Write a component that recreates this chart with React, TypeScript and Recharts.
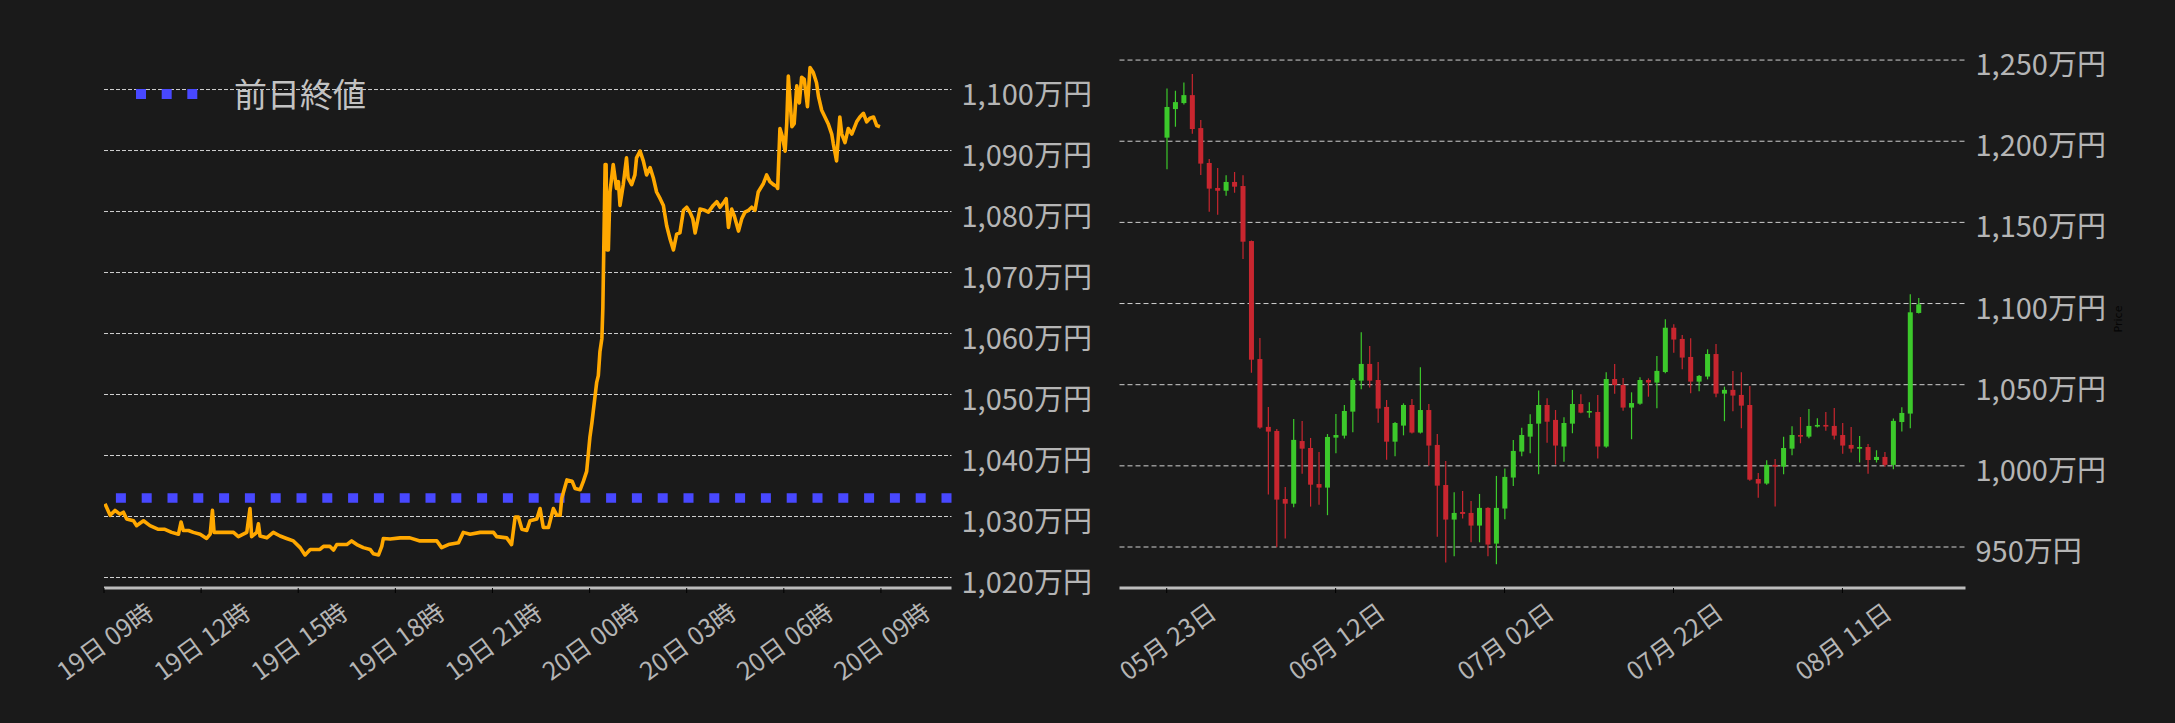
import React from "react";
import {
  LineChart,
  Line,
  ComposedChart,
  Bar,
  XAxis,
  YAxis,
  CartesianGrid,
  ReferenceLine,
  Legend,
} from "recharts";

// intraday price (hours since 19日 09時, 万円)
const intradayHours = [
  0.03, 0.19, 0.34, 0.49, 0.6, 0.7, 0.91, 1.01, 1.11, 1.22, 1.42, 1.68, 1.88, 2.09, 2.3, 2.38, 2.45, 2.61, 2.76,
  2.97, 3.17, 3.28, 3.35, 3.4, 3.69, 4.0, 4.15, 4.41, 4.51, 4.56, 4.72, 4.77, 4.82, 5.03, 5.23, 5.44, 5.64, 5.85,
  6.06, 6.21, 6.37, 6.67, 6.78, 6.98, 7.09, 7.19, 7.5, 7.65, 7.81, 8.01, 8.22, 8.32, 8.48, 8.58, 8.63, 8.84, 9.15,
  9.45, 9.76, 10.07, 10.28, 10.43, 10.64, 10.95, 11.1, 11.31, 11.62, 12.03, 12.13, 12.44, 12.59, 12.7, 12.8, 12.91,
  13.06, 13.16, 13.37, 13.47, 13.57, 13.73, 13.88, 13.99, 14.09, 14.14, 14.3, 14.46, 14.55, 14.71, 14.81, 14.91,
  15.01, 15.07, 15.22, 15.27, 15.32, 15.38, 15.41, 15.48, 15.51, 15.54, 15.58, 15.63, 15.73, 15.83, 15.89, 15.94,
  16.04, 16.14, 16.19, 16.3, 16.4, 16.45, 16.56, 16.66, 16.76, 16.87, 16.97, 17.07, 17.18, 17.28, 17.38, 17.49,
  17.59, 17.69, 17.79, 17.9, 18.0, 18.1, 18.19, 18.26, 18.41, 18.56, 18.67, 18.82, 18.93, 19.03, 19.16, 19.22,
  19.29, 19.39, 19.47, 19.6, 19.7, 19.8, 19.91, 20.01, 20.11, 20.21, 20.37, 20.47, 20.57, 20.68, 20.78, 20.81,
  20.88, 20.96, 21.04, 21.09, 21.14, 21.25, 21.32, 21.4, 21.48, 21.55, 21.63, 21.73, 21.81, 21.91, 22.01, 22.07,
  22.17, 22.27, 22.37, 22.48, 22.53, 22.63, 22.73, 22.79, 22.89, 22.99, 23.1, 23.25, 23.35, 23.46, 23.56, 23.66,
  23.77, 23.87, 23.97,
];
const intradayPrice = [
  1032.1, 1030.2, 1031.0, 1030.4, 1030.7, 1029.6, 1029.3, 1028.5, 1028.9, 1029.3, 1028.5, 1027.9, 1027.9, 1027.4,
  1027.1, 1029.1, 1027.7, 1027.7, 1027.4, 1027.1, 1026.4, 1027.1, 1031.0, 1027.4, 1027.4, 1027.4, 1026.7, 1027.4,
  1031.3, 1026.7, 1027.4, 1028.8, 1026.8, 1026.5, 1027.4, 1026.8, 1026.4, 1026.0, 1024.9, 1023.7, 1024.6, 1024.6,
  1025.1, 1025.1, 1024.5, 1025.4, 1025.4, 1026.0, 1025.4, 1024.9, 1024.6, 1023.9, 1023.7, 1025.1, 1026.4, 1026.3,
  1026.5, 1026.5, 1026.0, 1026.0, 1026.0, 1024.9, 1025.4, 1025.7, 1027.4, 1027.1, 1027.4, 1027.4, 1026.7, 1026.5,
  1025.4, 1029.9, 1029.9, 1027.9, 1027.7, 1029.3, 1029.6, 1031.3, 1028.2, 1028.2, 1031.3, 1030.2, 1030.2, 1033.0,
  1036.0, 1035.8, 1034.6, 1034.4, 1035.8, 1037.4, 1043.0, 1045.3, 1052.0, 1053.1, 1057.0, 1059.2, 1064.2, 1087.7,
  1087.7, 1073.7, 1073.7, 1083.2, 1087.7, 1083.8, 1084.9, 1081.0, 1084.4, 1088.8, 1085.5, 1084.4, 1086.0, 1088.8,
  1089.9, 1088.3, 1086.0, 1087.2, 1085.5, 1083.2, 1082.1, 1081.0, 1077.7, 1075.4, 1073.7, 1076.3, 1076.5, 1080.2,
  1080.7, 1079.9, 1078.8, 1076.5, 1080.4, 1080.2, 1079.9, 1081.0, 1081.6, 1080.7, 1081.6, 1082.1, 1077.4, 1080.4,
  1079.3, 1076.8, 1078.8, 1079.9, 1080.2, 1080.7, 1080.2, 1083.2, 1084.6, 1086.0, 1084.9, 1084.4, 1084.1, 1083.8,
  1093.6, 1092.2, 1089.9, 1094.4, 1102.2, 1093.9, 1094.4, 1100.6, 1097.8, 1102.0, 1101.7, 1097.2, 1103.6, 1102.8,
  1101.1, 1098.9, 1096.6, 1095.5, 1094.4, 1092.7, 1091.1, 1088.3, 1095.5, 1092.7, 1091.3, 1093.6, 1092.7, 1094.7,
  1095.5, 1096.1, 1094.7, 1095.3, 1095.5, 1094.1, 1093.9, 1095.3,
];
const prevClose = 1033.05;
const intradayTicks = [0, 3, 6, 9, 12, 15, 18, 21, 24];
const intradayTickLabels = [
  "19日 09時", "19日 12時", "19日 15時", "19日 18時", "19日 21時",
  "20日 00時", "20日 03時", "20日 06時", "20日 09時",
];
const intradayPriceTicks = [1020, 1030, 1040, 1050, 1060, 1070, 1080, 1090, 1100];
const intradayPriceLabels = [
  "1,020万円", "1,030万円", "1,040万円", "1,050万円", "1,060万円",
  "1,070万円", "1,080万円", "1,090万円", "1,100万円",
];

// daily candles, one per day starting 05月23日 (万円)
const candleOpen = [
  1202.2, 1219.8, 1223.5, 1228.4, 1208.1, 1186.6, 1171.2, 1169.5, 1174.9, 1172.4, 1138.5, 1065.8, 1024.0, 1021.5,
  979.6, 976.7, 1015.3, 1011.0, 988.8, 986.6, 1017.4, 1018.6, 1033.4, 1052.5, 1062.8, 1052.9, 1036.3, 1014.9,
  1024.8, 1037.5, 1020.5, 1034.4, 1012.9, 988.2, 966.9, 971.6, 971.0, 963.2, 974.1, 952.1, 973.7, 992.8, 1008.8,
  1018.0, 1026.0, 1037.5, 1028.3, 1011.9, 1026.0, 1038.1, 1032.8, 1033.2, 1011.9, 1053.5, 1049.8, 1035.9, 1038.3,
  1052.9, 1051.3, 1057.8, 1085.1, 1078.2, 1067.1, 1051.9, 1055.0, 1068.9, 1044.5, 1046.8, 1043.7, 1037.5, 991.9,
  989.1, 1000.6, 999.5, 1010.6, 1019.0, 1018.0, 1024.2, 1025.2, 1024.6, 1019.0, 1012.9, 1010.6, 1011.6, 1003.6,
  1005.5, 1000.6, 1027.0, 1032.2, 1094.2,
];
const candleHigh = [
  1232.5, 1231.1, 1236.2, 1241.4, 1213.0, 1189.0, 1183.5, 1179.0, 1181.0, 1179.0, 1138.9, 1078.8, 1036.3, 1022.7,
  987.0, 1028.9, 1027.7, 1017.2, 1008.6, 1019.6, 1031.9, 1037.5, 1053.9, 1082.3, 1073.9, 1064.0, 1040.6, 1027.0,
  1038.5, 1041.2, 1060.7, 1038.1, 1019.6, 1003.0, 983.7, 984.5, 978.4, 982.7, 974.5, 993.8, 998.3, 1015.9, 1023.4,
  1031.8, 1046.5, 1041.6, 1034.4, 1029.9, 1046.8, 1044.1, 1039.2, 1043.7, 1057.6, 1062.8, 1054.1, 1045.3, 1054.6,
  1053.9, 1067.7, 1090.3, 1087.2, 1080.6, 1078.6, 1056.0, 1071.8, 1075.1, 1048.8, 1058.5, 1057.6, 1049.2, 995.6,
  1003.4, 1004.3, 1018.0, 1024.4, 1030.1, 1035.0, 1029.3, 1033.2, 1035.7, 1026.4, 1023.9, 1018.4, 1013.5, 1009.6,
  1008.6, 1029.1, 1036.1, 1105.7, 1103.4,
];
const candleLow = [
  1182.7, 1208.9, 1222.7, 1204.6, 1179.2, 1156.6, 1154.7, 1166.4, 1168.3, 1127.4, 1057.4, 1022.9, 982.3, 949.8,
  955.2, 974.5, 995.2, 974.9, 976.1, 969.6, 1007.7, 1016.8, 1020.7, 1047.2, 1048.2, 1026.6, 1003.8, 1005.9, 1018.8,
  1020.0, 1020.0, 1000.0, 956.4, 940.4, 944.3, 967.5, 952.9, 952.9, 944.3, 939.4, 967.1, 987.6, 1005.9, 1007.7,
  994.8, 1014.3, 1000.8, 1002.6, 1020.1, 1032.4, 1029.7, 1004.5, 1011.2, 1044.5, 1034.0, 1016.4, 1037.7, 1042.6,
  1035.5, 1057.0, 1069.7, 1059.5, 1044.7, 1045.9, 1053.3, 1042.2, 1027.5, 1033.6, 1023.1, 990.9, 980.4, 988.4,
  974.9, 994.8, 1006.5, 1013.9, 1017.0, 1023.6, 1021.7, 1016.2, 1007.5, 1008.2, 1002.0, 995.2, 1002.0, 999.5,
  997.9, 1021.1, 1023.1, 1093.8,
];
const candleClose = [
  1221.1, 1224.1, 1228.4, 1207.5, 1186.2, 1170.8, 1169.5, 1174.9, 1172.0, 1138.1, 1065.4, 1023.6, 1021.1, 979.2,
  976.7, 1016.0, 1010.6, 988.4, 986.6, 1017.8, 1019.0, 1033.8, 1052.9, 1062.8, 1052.5, 1035.3, 1014.9, 1026.4,
  1037.5, 1020.5, 1034.4, 1012.5, 987.8, 966.9, 971.0, 970.4, 963.2, 974.1, 951.5, 974.1, 993.2, 1009.2, 1019.0,
  1025.8, 1037.5, 1027.2, 1012.5, 1026.4, 1038.1, 1032.8, 1033.8, 1011.9, 1053.5, 1049.8, 1035.9, 1038.7, 1052.9,
  1051.3, 1058.5, 1085.1, 1077.8, 1066.7, 1051.9, 1055.4, 1068.9, 1044.5, 1046.8, 1043.3, 1037.1, 991.5, 989.1,
  1000.6, 999.5, 1011.0, 1019.0, 1018.0, 1024.6, 1025.2, 1024.2, 1018.6, 1012.5, 1010.6, 1011.6, 1003.6, 1005.5,
  1000.6, 1027.7, 1032.6, 1094.6, 1099.5,
];
const dateTicks = [0, 20, 40, 60, 80];
const dateTickLabels = ["05月 23日", "06月 12日", "07月 02日", "07月 22日", "08月 11日"];
const dailyPriceTicks = [950, 1000, 1050, 1100, 1150, 1200, 1250];
const dailyPriceLabels = ["950万円", "1,000万円", "1,050万円", "1,100万円", "1,150万円", "1,200万円", "1,250万円"];

const BG = "#1a1a1a";
const TEXT = "#b5b5b5";
const GRID = "#d0d0d0";
const AXIS = "#bdbdbd";
const UP = "#3cc92b";
const DOWN = "#c8262f";
const FONT = "'Noto Sans CJK JP', 'Noto Sans', sans-serif";

const intradayData = intradayHours.map((h, i) => ({ hour: h, price: intradayPrice[i] }));
const candleData = candleOpen.map((o, i) => ({
  day: i,
  open: o,
  high: candleHigh[i],
  low: candleLow[i],
  close: candleClose[i],
}));

// rotated date labels, centred under the tick
const makeXTick = (ticks: number[], labels: string[]) => (props: any) => {
  const { x, y, payload } = props;
  const label = labels[ticks.indexOf(payload.value)];
  return (
    <g transform={`translate(${x}, ${y + 45}) rotate(-36)`}>
      <text
        x={0}
        y={0}
        textAnchor="middle"
        dominantBaseline="central"
        fill={TEXT}
        fontSize={25}
        fontFamily={FONT}
      >
        {label}
      </text>
    </g>
  );
};

const makeYTick = (ticks: number[], labels: string[]) => (props: any) => {
  const { x, y, payload } = props;
  const label = labels[ticks.indexOf(payload.value)];
  return (
    <text x={x} y={y + 2} dominantBaseline="central" fill={TEXT} fontSize={29} fontFamily={FONT}>
      {label}
    </text>
  );
};

// grid lines only at the price ticks
const gridAt = (ticks: number[], domain: number[]) => (props: any) => {
  const { yAxis, offset } = props;
  if (yAxis && typeof yAxis.scale === "function") return ticks.map((t) => yAxis.scale(t));
  const [lo, hi] = domain;
  return ticks.map((t) => offset.top + ((hi - t) / (hi - lo)) * offset.height);
};

const Candle = (props: any) => {
  const { x, width, payload } = props;
  let { y, height } = props;
  if (height < 0) {
    y += height;
    height = -height;
  }
  const { open, close, high, low } = payload;
  const color = close >= open ? UP : DOWN;
  const ratio = height / (high - low);
  const cx = x + width / 2;
  const top = y + (high - Math.max(open, close)) * ratio;
  const bodyH = Math.max(Math.abs(close - open) * ratio, 1.5);
  return (
    <g>
      <line x1={cx} x2={cx} y1={y} y2={y + height} stroke={color} strokeWidth={1.2} />
      <rect x={cx - 2.5} y={top} width={5} height={bodyH} fill={color} />
    </g>
  );
};

const PrevCloseLegend = () => (
  <svg width={420} height={140} style={{ display: "block" }}>
    <rect x={136} y={89} width={10} height={10} fill="#4848ff" />
    <rect x={161.7} y={89} width={10} height={10} fill="#4848ff" />
    <rect x={187.3} y={89} width={10} height={10} fill="#4848ff" />
    <text x={234} y={93} dominantBaseline="central" fill="#c2c2c2" fontSize={33} fontFamily={FONT}>
      前日終値
    </text>
  </svg>
);

const PriceLabel = (props: any) => {
  const { x, y, width, height } = props.viewBox;
  const lx = x + width + 3;
  const ly = y + height / 2;
  return (
    <text
      x={lx}
      y={ly}
      textAnchor="middle"
      dominantBaseline="central"
      transform={`rotate(-90, ${lx}, ${ly})`}
      fill="#050505"
      fontSize={11}
      fontFamily="'DejaVu Sans', sans-serif"
    >
      Price
    </text>
  );
};

const intradayDomain = [1018.28, 1106.48];
const dailyDomain = [924.75, 1256.2];

export default function App() {
  return (
    <div style={{ position: "absolute", left: 0, top: 0, width: 2175, height: 723, background: BG }}>
      <div style={{ position: "absolute", left: 0, top: 0 }}>
        <LineChart
          width={1100}
          height={723}
          data={intradayData}
          margin={{ top: 50, right: 8.5, bottom: 55, left: 104 }}
        >
          <CartesianGrid
            vertical={false}
            stroke={GRID}
            strokeDasharray="4 2"
            strokeWidth={1}
            horizontalCoordinatesGenerator={gridAt(intradayPriceTicks, intradayDomain)}
          />
          <XAxis
            dataKey="hour"
            type="number"
            domain={[0, 26.18]}
            ticks={intradayTicks}
            interval={0}
            height={80}
            axisLine={{ stroke: AXIS, strokeWidth: 3 }}
            tickLine={{ stroke: "#000" }}
            tickSize={5}
            tick={makeXTick(intradayTicks, intradayTickLabels)}
            allowDataOverflow
          />
          <YAxis
            orientation="right"
            type="number"
            width={140}
            domain={intradayDomain}
            ticks={intradayPriceTicks}
            interval={0}
            axisLine={false}
            tickLine={false}
            tickSize={0}
            tickMargin={10}
            tick={makeYTick(intradayPriceTicks, intradayPriceLabels)}
            allowDataOverflow
          />
          <ReferenceLine
            y={prevClose}
            stroke="#4848ff"
            strokeWidth={9.5}
            strokeDasharray="10 15.8"
          />
          <Line
            dataKey="price"
            type="linear"
            stroke="#ffa800"
            strokeWidth={3.6}
            strokeLinejoin="round"
            dot={false}
            isAnimationActive={false}
          />
          <Legend
            layout="vertical"
            align="center"
            verticalAlign="middle"
            wrapperStyle={{ left: 0, top: 0, width: 420, height: 140 }}
            content={() => <PrevCloseLegend />}
          />
        </LineChart>
      </div>
      <div style={{ position: "absolute", left: 1100, top: 0 }}>
        <ComposedChart
          width={1075}
          height={723}
          data={candleData}
          margin={{ top: 50, right: 59.5, bottom: 55, left: 19.5 }}
        >
          <CartesianGrid
            vertical={false}
            stroke={GRID}
            strokeDasharray="5 3"
            strokeWidth={1}
            horizontalCoordinatesGenerator={gridAt(dailyPriceTicks, dailyDomain)}
          />
          <XAxis
            dataKey="day"
            type="number"
            domain={[-5.59, 94.57]}
            ticks={dateTicks}
            interval={0}
            height={80}
            axisLine={{ stroke: AXIS, strokeWidth: 3 }}
            tickLine={{ stroke: "#000" }}
            tickSize={5}
            tick={makeXTick(dateTicks, dateTickLabels)}
            allowDataOverflow
          />
          <YAxis
            orientation="right"
            type="number"
            width={150}
            domain={dailyDomain}
            ticks={dailyPriceTicks}
            interval={0}
            axisLine={false}
            tickLine={false}
            tickSize={0}
            tickMargin={10}
            tick={makeYTick(dailyPriceTicks, dailyPriceLabels)}
            label={<PriceLabel />}
            allowDataOverflow
          />
          <Bar
            dataKey={(d: any) => [d.low, d.high]}
            barSize={5}
            shape={<Candle />}
            isAnimationActive={false}
          />
        </ComposedChart>
      </div>
    </div>
  );
}
